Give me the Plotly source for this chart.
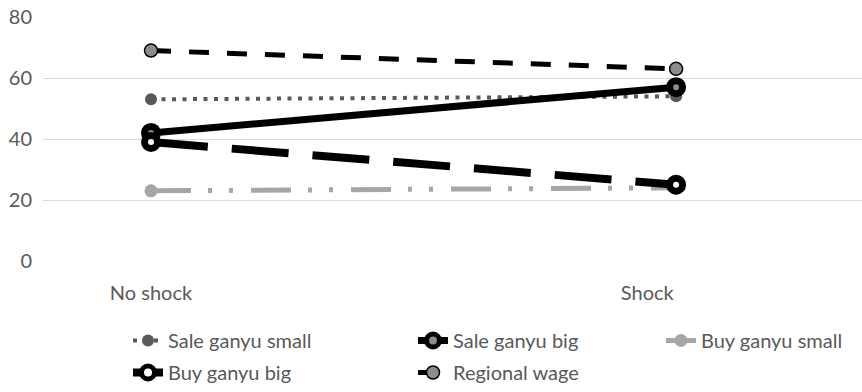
import plotly.graph_objects as go

# ---- data ----
categories = ["No shock", "Shock"]
sale_ganyu_small = [53, 54]
sale_ganyu_big = [42, 57]
buy_ganyu_small = [23, 24]
buy_ganyu_big = [39, 25]
regional_wage = [69, 63]
y_ticks = [0, 20, 40, 60, 80]

# category label placement (label positions on the numeric category axis)
label_pos = [0, 0.945]
x = list(range(len(categories)))

FONT = "Lato"
TXT = "#595959"

fig = go.Figure()

fig.add_trace(go.Scatter(
    x=x, y=sale_ganyu_small, name="Sale ganyu small", mode="lines+markers",
    line=dict(color="#595959", width=4, dash="4px,6.5px"),
    marker=dict(symbol="circle", size=12, color="#595959"),
    legend="legend", legendgroup="a",
))
fig.add_trace(go.Scatter(
    x=x, y=sale_ganyu_big, name="Sale ganyu big", mode="lines+markers",
    line=dict(color="#000000", width=7),
    marker=dict(symbol="circle", size=13, color="#8c8c8c",
                line=dict(color="#000000", width=7)),
    legend="legend2", legendgroup="b",
))
fig.add_trace(go.Scatter(
    x=x, y=buy_ganyu_small, name="Buy ganyu small", mode="lines+markers",
    line=dict(color="#a6a6a6", width=5, dash="40px,17px,4px,17px,4px,18px"),
    marker=dict(symbol="circle", size=13, color="#a6a6a6"),
    legend="legend3", legendgroup="c",
))
fig.add_trace(go.Scatter(
    x=x, y=buy_ganyu_big, name="Buy ganyu big", mode="lines+markers",
    line=dict(color="#000000", width=8, dash="57px,24px"),
    marker=dict(symbol="circle", size=13, color="#ffffff",
                line=dict(color="#000000", width=7)),
    legend="legend", legendgroup="d",
))
fig.add_trace(go.Scatter(
    x=x, y=regional_wage, name="Regional wage", mode="lines+markers",
    line=dict(color="#000000", width=5, dash="20px,18px"),
    marker=dict(symbol="circle", size=13, color="#8c8c8c",
                line=dict(color="#000000", width=1.5)),
    legend="legend2", legendgroup="e",
))

leg_common = dict(
    orientation="v", xref="container", yref="container",
    yanchor="top", xanchor="left", font=dict(family=FONT, size=20, color=TXT),
    bgcolor="rgba(0,0,0,0)", tracegroupgap=3, itemclick=False,
)

fig.update_layout(
    width=862, height=392,
    margin=dict(l=43, r=0, t=17, b=131, autoexpand=False),
    paper_bgcolor="white", plot_bgcolor="white",
    font=dict(family=FONT, size=20, color=TXT),
    xaxis=dict(
        range=[-0.2057, 1.354], tickvals=label_pos, ticktext=categories,
        tickangle=0, automargin=False,
        showgrid=False, zeroline=False, showline=False,
        ticks="outside", ticklen=14, tickcolor="rgba(0,0,0,0)",
        tickfont=dict(family=FONT, size=20, color=TXT),
    ),
    yaxis=dict(
        range=[0, 80], tickvals=y_ticks, showgrid=True, gridcolor="#d9d9d9",
        gridwidth=1.2, zeroline=False, showline=False, automargin=False,
        ticks="outside", ticklen=6, tickcolor="rgba(0,0,0,0)",
        tickfont=dict(family=FONT, size=20, color=TXT),
    ),
    legend=dict(x=128 / 862, y=1 - 321 / 392, **leg_common),
    legend2=dict(x=413 / 862, y=1 - 321 / 392, **leg_common),
    legend3=dict(x=661 / 862, y=1 - 321 / 392, **leg_common),
)

fig.write_html("out.html")
